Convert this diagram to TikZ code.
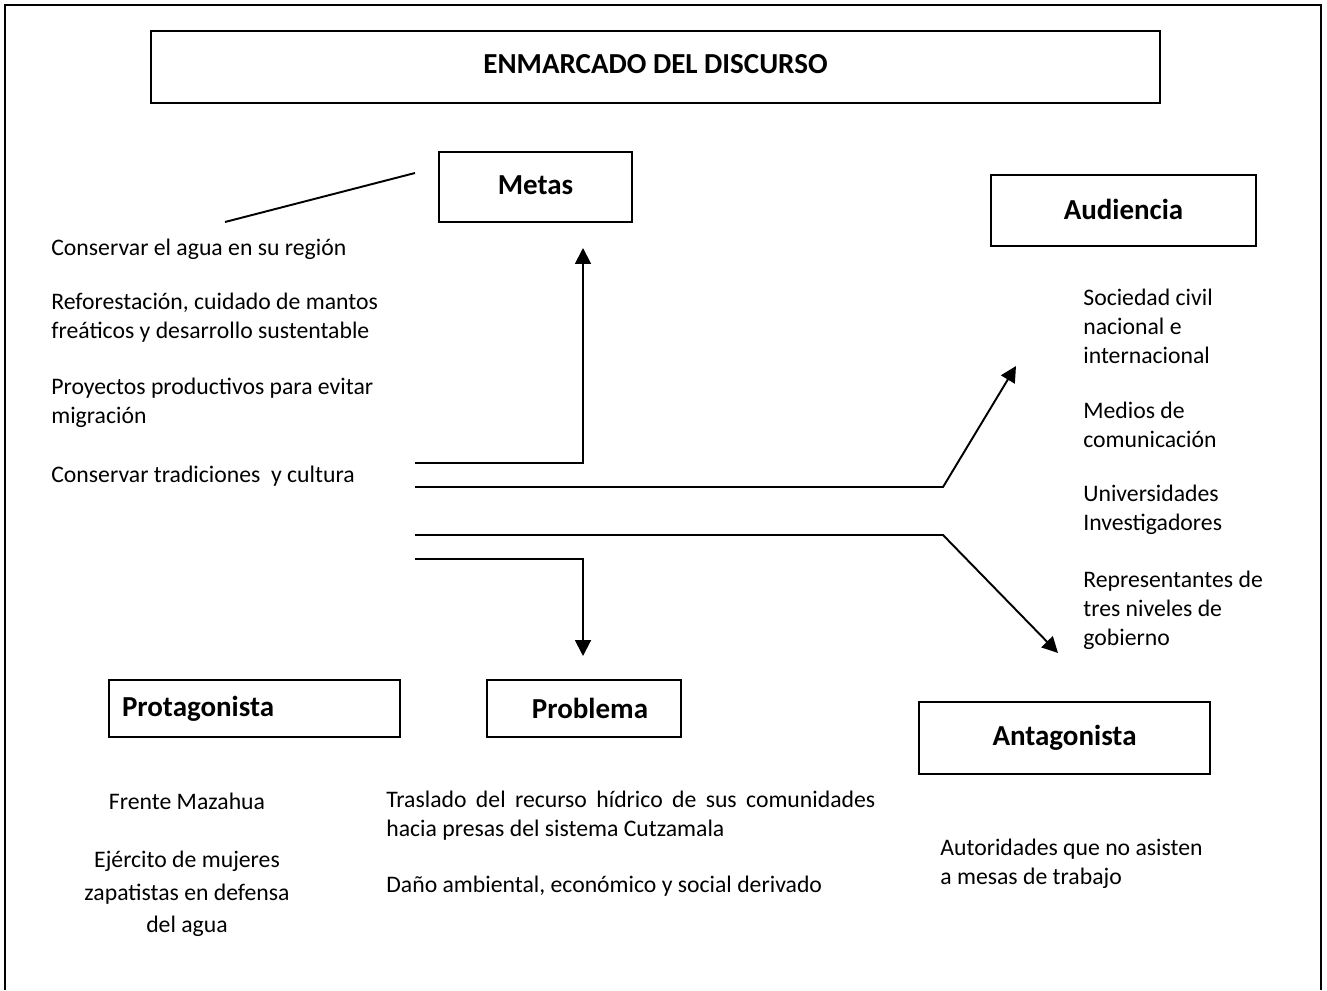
\documentclass[tikz,border=0pt]{standalone}
\usepackage{fontspec}
\setmainfont{Carlito}
\usepackage{tikz}
\usetikzlibrary{arrows.meta}

\begin{document}
\begin{tikzpicture}[x=0.02cm, y=-0.02cm,
    box/.style={draw, line width=1.1pt, inner sep=0pt, font=\fontsize{16.5pt}{19pt}\selectfont\bfseries},
    txt/.style={inner sep=0pt, anchor=west, align=left, font=\fontsize{13.5pt}{16.5pt}\selectfont},
    link/.style={line width=1.1pt},
    arr/.style={line width=1.1pt, -{Triangle[length=9pt, width=9pt]}}]
                \useasboundingbox (0,0) rectangle (1327,990);
                % Outer frame
                \draw[line width=1.1pt] (5,990) -- (5,5) -- (1321,5) -- (1321,990);

                % Boxes
                \node[box, minimum width=20.18cm, minimum height=1.44cm] (title) at (655.5,67) {\raisebox{0.14cm}{ENMARCADO DEL DISCURSO}};
                \node[box, minimum width=3.86cm, minimum height=1.40cm] (metas) at (535.5,187) {\raisebox{0.06cm}{Metas}};
                \node[box, minimum width=5.30cm, minimum height=1.42cm] (audiencia) at (1123.5,210.5) {\raisebox{0.06cm}{Audiencia}};
                \node[box, minimum height=1.14cm, text width=5.30cm, inner xsep=0.26cm, align=left] (protagonista) at (254.5,708.5) {Protagonista};
                \node[box, minimum width=3.88cm, minimum height=1.14cm] (problema) at (584,708.5) {\hspace{0.24cm}Problema};
                \node[box, minimum width=5.82cm, minimum height=1.44cm] (antagonista) at (1064.5,738) {\raisebox{0.06cm}{Antagonista}};

                % Metas
                \coordinate (s0) at (415,173);
                \coordinate (s1) at (225,222);
                \draw[link] (s0) -- (s1);
                \node[txt] (meta1) at (51,249) {Conservar el agua en su región};
                \node[txt] (meta2) at (51,318) {Reforestación, cuidado de mantos\\freáticos y desarrollo sustentable};
                \node[txt] (meta3) at (51,403) {Proyectos productivos para evitar\\migración};
                \node[txt] (meta4) at (51,476) {Conservar tradiciones\ \ y cultura};

                % Audiencia
                \node[txt] (aud1) at (1083,326) {Sociedad civil\\nacional e\\internacional};
                \node[txt] (aud2) at (1083,425) {Medios de\\comunicación};
                \node[txt] (aud3) at (1083,510) {Universidades\\Investigadores};
                \node[txt] (aud4) at (1083,610) {Representantes de\\tres niveles de\\gobierno};

                % Connectors
                \coordinate (m0) at (415,463);
                \coordinate (m1) at (583,248);
                \coordinate (a0) at (415,487);
                \coordinate (a1) at (943,487);
                \coordinate (a2) at (1016,366);
                \coordinate (t0) at (415,535);
                \coordinate (t1) at (943,535);
                \coordinate (t2) at (1058,653);
                \coordinate (p0) at (415,559);
                \coordinate (p1) at (583,656);
                \draw[arr] (m0) -| (m1);
                \draw[arr] (a0) -- (a1) -- (a2);
                \draw[arr] (t0) -- (t1) -- (t2);
                \draw[arr] (p0) -| (p1);

                % Protagonista
                \node[txt, anchor=center, align=center] (prot1) at (187,801) {Frente Mazahua};
                \node[txt, anchor=center, align=center, font=\fontsize{13.5pt}{18.5pt}\selectfont] (prot2) at (187,894) {Ejército de mujeres\\zapatistas en defensa\\del agua};

                % Problema
                \node[txt] (prob1) at (386,816) {\makebox[9.78cm][s]{Traslado del recurso hídrico de sus comunidades}\\hacia presas del sistema Cutzamala};
                \node[txt] (prob2) at (386,886) {Daño ambiental, económico y social derivado};

                % Antagonista
                \node[txt] (ant1) at (940,864) {Autoridades que no asisten\\a mesas de trabajo};
\end{tikzpicture}
\end{document}
